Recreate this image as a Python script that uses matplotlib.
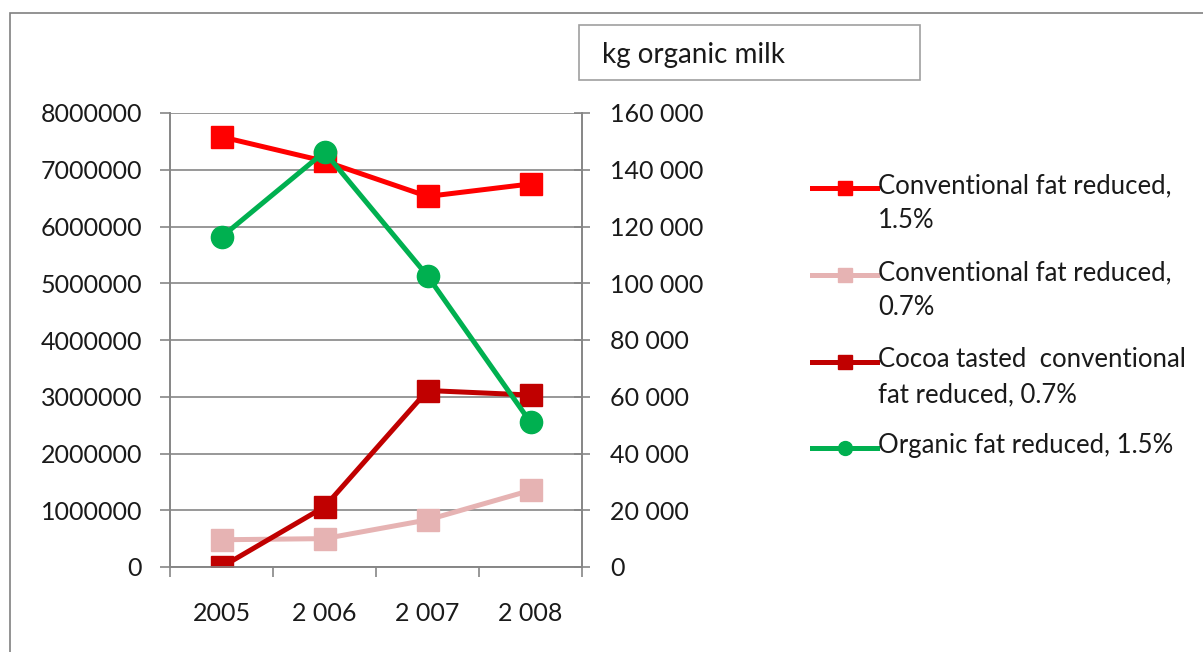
import numpy as np
import matplotlib
matplotlib.use("Agg")
import matplotlib.pyplot as plt
from matplotlib.lines import Line2D
from matplotlib.patches import Rectangle
from matplotlib.ticker import FuncFormatter

# Data
# ----------------------------------------------------------------------
YEARS = ["2005", "2 006", "2 007", "2 008"]
CONV_15 = [7580000, 7150000, 6530000, 6750000]
CONV_07 = [480000, 500000, 830000, 1350000]
COCOA_07 = [0, 1060000, 3110000, 3030000]
ORGANIC_15 = [116300, 146300, 102600, 51000]   # right axis

LABELS = ["Conventional fat reduced,\n1.5%",
          "Conventional fat reduced,\n0.7%",
          "Cocoa tasted  conventional\nfat reduced, 0.7%",
          "Organic fat reduced, 1.5%"]
BOX_TEXT = "kg organic milk"
# ----------------------------------------------------------------------

RED = "#FF0000"
PINK = "#E6B3B3"
DARKRED = "#C00000"
GREEN = "#00B050"
GRID = "#868686"
TXT = "#1a1a1a"
FS = 18

plt.rcParams["font.family"] = ["Lato", "DejaVu Sans"]
plt.rcParams["font.size"] = FS

W, H = 1203, 652
fig = plt.figure(figsize=(W / 100, H / 100), dpi=100)
fig.patch.set_facecolor("white")

# outer chart frame
fig.add_artist(Rectangle((10 / W, -0.05), 1.2, 1.05 - 13 / H,
                         transform=fig.transFigure, fill=False,
                         edgecolor="#808080", linewidth=1.2))

ax = fig.add_axes([170 / W, 1 - 567 / H, 412 / W, 454 / H])
ax2 = ax.twinx()

x = np.arange(len(YEARS))
LW = 3.6
ax.plot(x, CONV_15, color=RED, lw=LW, marker="s", ms=16, zorder=3)
ax.plot(x, CONV_07, color=PINK, lw=LW, marker="s", ms=16, zorder=3)
ax.plot(x, COCOA_07, color=DARKRED, lw=LW, marker="s", ms=16, zorder=4)
ax2.plot(x, ORGANIC_15, color=GREEN, lw=LW, marker="o", ms=16, zorder=5)

ax.set_xlim(-0.5, len(YEARS) - 0.5)
ax.set_ylim(0, 8000000)
ax2.set_ylim(0, 160000)
ax.set_yticks(np.arange(0, 8000001, 1000000))
ax2.set_yticks(np.arange(0, 160001, 20000))
ax.yaxis.set_major_formatter(FuncFormatter(lambda v, p: "%d" % v))
ax2.yaxis.set_major_formatter(
    FuncFormatter(lambda v, p: ("{:,}".format(int(v))).replace(",", " ")))

ax.set_xticks(x)
ax.set_xticklabels(YEARS)
ax.set_xticks(np.arange(-0.5, len(YEARS), 1.0), minor=True)
ax.tick_params(axis="x", which="major", length=0, pad=25, colors=TXT,
               labelsize=FS)
ax.tick_params(axis="x", which="minor", length=7, direction="out",
               color=GRID, width=1.2)
ax.tick_params(axis="y", length=7, direction="out", color=GRID, width=1.2,
               pad=13, colors=TXT, labelsize=FS)
ax.tick_params(axis="y", color=GRID)
ax2.tick_params(axis="y", length=12, direction="inout", color=GRID,
                width=1.2, pad=14, labelcolor=TXT, labelsize=FS)

ax.grid(axis="y", color=GRID, lw=1.2)
ax.set_axisbelow(True)
for a in (ax, ax2):
    a.spines["top"].set_visible(False)
    for s in ("left", "right", "bottom"):
        a.spines[s].set_color(GRID)
        a.spines[s].set_linewidth(1.2)
    a.patch.set_visible(False)

# text box
fig.add_artist(Rectangle((579 / W, 1 - 80 / H), 341 / W, 55 / H,
                         transform=fig.transFigure, fill=False,
                         edgecolor="#a0a0a0", linewidth=1.2))
fig.text(602 / W, 1 - 55 / H, BOX_TEXT, ha="left", va="center",
         fontsize=20, color=TXT)

# legend
colors = [RED, PINK, DARKRED, GREEN]
markers = ["s", "s", "s", "o"]
rows = [188, 275, 362, 448]
for c, m, r, lab in zip(colors, markers, rows, LABELS):
    yf = 1 - r / H
    fig.add_artist(Line2D([812 / W, 877 / W], [yf, yf],
                          transform=fig.transFigure, color=c, lw=LW))
    fig.add_artist(Line2D([844.5 / W], [yf], transform=fig.transFigure,
                          color=c, marker=m, ms=10, lw=0))
    fig.text(878 / W, yf + 15 / H, lab, ha="left", va="top",
             fontsize=18.5, color=TXT, linespacing=1.5)

fig.savefig("out.png", dpi=100, facecolor="white")
